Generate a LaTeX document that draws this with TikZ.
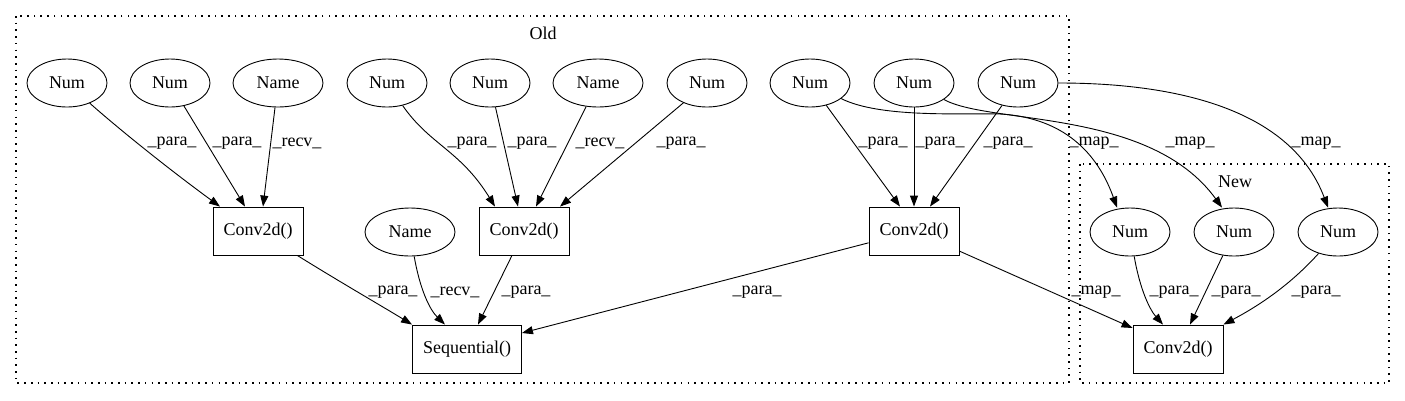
\documentclass[tikz,border=0pt]{standalone}
\usepackage{fontspec}
\setmainfont{Liberation Serif}
\usetikzlibrary{arrows.meta,shapes.geometric}
\begin{document}
\begin{tikzpicture}[x=1pt,y=-1pt,
  every node/.style={font=\fontsize{18}{20}\selectfont},
  ell/.style={draw,ellipse,inner sep=0pt,minimum width=80pt,minimum height=48pt,line width=0.9pt},
  wide/.style={minimum width=90pt},
  box/.style={draw,rectangle,inner sep=0pt,minimum width=90pt,minimum height=48pt,line width=0.9pt},
  lbl/.style={inner sep=0pt},
  edge/.style={line width=0.9pt,-{Triangle[length=11pt,width=8pt]}},
  cluster/.style={line width=1.4pt,dash pattern=on 1.6pt off 5.1pt}]
\useasboundingbox (0,0) rectangle (1405,400);
% clusters
\draw[cluster] (16,16) rectangle (1069,383);
\draw[cluster] (1080,164) rectangle (1389,383);
\node[lbl] (oldlbl) at (543,33) {Old};
\node[lbl] (newlbl) at (1235,182) {New};
% top row
\node[ell] (t1) at (67,83) {Num};
\node[ell] (t2) at (170,83) {Num};
\node[ell,wide] (t3) at (278,83) {Name};
\node[ell] (t4) at (387,83) {Num};
\node[ell] (t5) at (490,83) {Num};
\node[ell,wide] (t6) at (598,83) {Name};
\node[ell] (t7) at (707,83) {Num};
\node[ell] (t8) at (810,83) {Num};
\node[ell] (t9) at (914,83) {Num};
\node[ell] (t10) at (1018,83) {Num};
% second row
\node[box] (c1) at (258,231) {Conv2d()};
\node[ell,wide] (nm) at (410,232) {Name};
\node[box] (c2) at (524,231) {Conv2d()};
\node[box] (c3) at (914,231) {Conv2d()};
\node[ell] (n1) at (1130,232) {Num};
\node[ell] (n2) at (1234,232) {Num};
\node[ell] (n3) at (1338,232) {Num};
% third row
\node[box,minimum width=109pt] (seq) at (467,349) {Sequential()};
\node[box] (nc) at (1178,349) {Conv2d()};
% edges to c1
\draw[edge] (t1) .. controls (120,130) and (170,170) .. (c1.north west -| 220,0);
\draw[edge] (t2) -- (c1.north -| 245,0);
\draw[edge] (t3) -- (c1.north -| 263,0);
\node[lbl] (l1) at (172,143) {\_para\_};
\node[lbl] (l2) at (237,143) {\_para\_};
\node[lbl] (l3) at (297,143) {\_recv\_};
% edges to c2
\draw[edge] (t4) .. controls (430,145) and (460,150) .. (c2.north -| 495,0);
\draw[edge] (t5) -- (c2.north -| 518,0);
\draw[edge] (t6) -- (c2.north -| 536,0);
\draw[edge] (t7) -- (c2.north -| 560,0);
\node[lbl] (l4) at (472,143) {\_para\_};
\node[lbl] (l5) at (532,143) {\_para\_};
\node[lbl] (l6) at (600,143) {\_recv\_};
\node[lbl] (l7) at (681,143) {\_para\_};
% edges to c3
\draw[edge] (t8) -- (c3.north -| 900,0);
\draw[edge] (t9) -- (c3.north);
\draw[edge] (t10) -- (c3.north -| 930,0);
\node[lbl] (l8) at (883,143) {\_para\_};
\node[lbl] (l9) at (940,143) {\_para\_};
\node[lbl] (l10) at (1008,143) {\_para\_};
% map edges
\draw[edge] (t8) .. controls (880,118) and (960,113) .. (1000,114) .. controls (1070,118) and (1100,160) .. (n1.north -| 1117,0);
\draw[edge] (t9) .. controls (990,125) and (1150,108) .. (n2.north -| 1222,0);
\draw[edge] (t10.east) .. controls (1200,83) and (1295,120) .. (n3.north -| 1328,0);
\node[lbl] (l11) at (1094,143) {\_map\_};
\node[lbl] (l12) at (1190,143) {\_map\_};
\node[lbl] (l13) at (1316,143) {\_map\_};
% edges to sequential
\draw[edge] (c1) .. controls (340,282) and (380,305) .. (seq.north west);
\draw[edge] (nm) .. controls (420,290) and (430,310) .. (seq.north -| 445,0);
\draw[edge] (c2) -- (seq.north -| 478,0);
\draw[edge] (c3) -- (seq.east |- 0,333);
\node[lbl] (l14) at (393,292) {\_para\_};
\node[lbl] (l15) at (455,292) {\_recv\_};
\node[lbl] (l16) at (526,292) {\_para\_};
\node[lbl] (l17) at (757,292) {\_para\_};
% edges to new conv
\draw[edge] (c3) -- (nc.west |- 0,328);
\draw[edge] (n1) .. controls (1140,290) and (1150,310) .. (nc.north -| 1163,0);
\draw[edge] (n2) -- (nc.north -| 1190,0);
\draw[edge] (n3) .. controls (1290,285) and (1260,305) .. (nc.north east);
\node[lbl] (l18) at (1096,292) {\_map\_};
\node[lbl] (l19) at (1174,292) {\_para\_};
\node[lbl] (l20) at (1236,292) {\_para\_};
\node[lbl] (l21) at (1316,292) {\_para\_};
\end{tikzpicture}
\end{document}
